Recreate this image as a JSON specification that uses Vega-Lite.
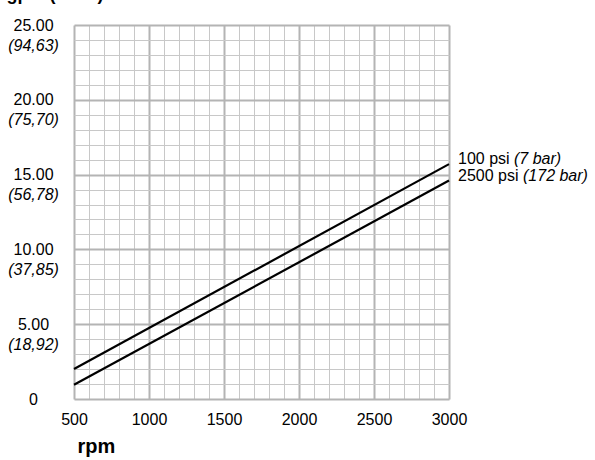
{
  "$schema": "https://vega.github.io/schema/vega-lite/v6.json",
  "width": 375,
  "height": 374,
  "autosize": {"type": "none"},
  "padding": {"left": 74, "top": 25, "right": 146, "bottom": 61},
  "background": "white",
  "config": {
    "font": "Liberation Sans",
    "view": {"stroke": null},
    "axis": {"labelColor": "black", "titleColor": "black", "labelFont": "Liberation Sans", "titleFont": "Liberation Sans"}
  },
  "datasets": {
    "lines": [
      {"series": "100 psi", "rpm": 500, "gpm": 2.0},
      {"series": "100 psi", "rpm": 3000, "gpm": 15.7},
      {"series": "2500 psi", "rpm": 500, "gpm": 0.95},
      {"series": "2500 psi", "rpm": 3000, "gpm": 14.6}
    ],
    "labels": [
      {"label": "100 psi", "bar": "(7 bar)", "rpm": 3000, "gpm": 15.7},
      {"label": "2500 psi", "bar": "(172 bar)", "rpm": 3000, "gpm": 14.6}
    ]
  },
  "layer": [
    {
      "data": {"name": "lines"},
      "mark": {"type": "line", "color": "black", "strokeWidth": 2.2},
      "encoding": {
        "x": {
          "field": "rpm", "type": "quantitative",
          "scale": {"domain": [500, 3000], "nice": false, "zero": false},
          "axis": {
            "values": [500,600,700,800,900,1000,1100,1200,1300,1400,1500,1600,1700,1800,1900,2000,2100,2200,2300,2400,2500,2600,2700,2800,2900,3000],
            "format": "d",
            "grid": true,
            "gridColor": {"condition": {"test": "datum.value % 500 === 0", "value": "#b4b4b4"}, "value": "#c8c8c8"},
            "gridWidth": {"condition": {"test": "datum.value % 500 === 0", "value": 2}, "value": 1},
            "gridOpacity": 1,
            "ticks": false,
            "tickSize": 0,
            "domain": false,
            "labelExpr": "datum.value % 500 === 0 ? datum.label : ''",
            "labelOverlap": false,
            "labelFlush": false,
            "labelFontSize": 16,
            "labelPadding": 12,
            "title": "rpm",
            "titleFontSize": 20,
            "titleFontWeight": "bold",
            "titleAlign": "left",
            "titleAnchor": "start",
            "titleBaseline": "alphabetic",
            "titleX": 3,
            "titleY": 53
          }
        },
        "y": {
          "field": "gpm", "type": "quantitative",
          "scale": {"domain": [0, 25], "nice": false},
          "axis": {
            "orient": "left",
            "values": [0,1,2,3,4,5,6,7,8,9,10,11,12,13,14,15,16,17,18,19,20,21,22,23,24,25],
            "grid": true,
            "gridColor": {"condition": {"test": "datum.value % 5 === 0", "value": "#b4b4b4"}, "value": "#c8c8c8"},
            "gridWidth": {"condition": {"test": "datum.value % 5 === 0", "value": 2}, "value": 1},
            "gridOpacity": 1,
            "ticks": false,
            "tickSize": 0,
            "domain": false,
            "labelExpr": "datum.value % 5 !== 0 ? '' : (datum.value === 0 ? '0' : format(datum.value, '.2f'))",
            "labelOverlap": false,
            "labelFlush": false,
            "labelAlign": "center",
            "labelBaseline": "middle",
            "labelFontSize": 16,
            "labelPadding": 41,
            "title": "gpm (l/min)",
            "titleAngle": 0,
            "titleAlign": "left",
            "titleBaseline": "alphabetic",
            "titleFontSize": 18,
            "titleFontWeight": "bold",
            "titleX": -68,
            "titleY": -26
          }
        },
        "detail": {"field": "series"}
      }
    },
    {
      "data": {"name": "labels"},
      "mark": {"type": "text", "align": "left", "baseline": "middle", "dx": 9, "dy": -5, "fontSize": 16, "color": "black"},
      "encoding": {
        "x": {"field": "rpm", "type": "quantitative", "axis": null},
        "y": {
          "field": "gpm", "type": "quantitative",
          "axis": {
            "orient": "left",
            "values": [5, 10, 15, 20, 25],
            "grid": false,
            "ticks": false,
            "tickSize": 0,
            "domain": false,
            "labelExpr": "'(' + replace(format(floor(datum.value * 378.541) / 100, '.2f'), '.', ',') + ')'",
            "labelOverlap": false,
            "labelFlush": false,
            "labelAlign": "center",
            "labelBaseline": "middle",
            "labelFontSize": 16,
            "labelFontStyle": "italic",
            "labelPadding": 41,
            "labelOffset": 20,
            "title": null
          }
        },
        "text": {"field": "label"}
      }
    },
    {
      "data": {"name": "labels"},
      "transform": [{"filter": "datum.label === '100 psi'"}],
      "mark": {"type": "text", "align": "left", "baseline": "middle", "dx": 65, "dy": -5, "fontSize": 16, "fontStyle": "italic", "color": "black"},
      "encoding": {
        "x": {"field": "rpm", "type": "quantitative", "axis": null},
        "y": {"field": "gpm", "type": "quantitative", "axis": null},
        "text": {"field": "bar"}
      }
    },
    {
      "data": {"name": "labels"},
      "transform": [{"filter": "datum.label === '2500 psi'"}],
      "mark": {"type": "text", "align": "left", "baseline": "middle", "dx": 74, "dy": -5, "fontSize": 16, "fontStyle": "italic", "color": "black"},
      "encoding": {
        "x": {"field": "rpm", "type": "quantitative", "axis": null},
        "y": {"field": "gpm", "type": "quantitative", "axis": null},
        "text": {"field": "bar"}
      }
    }
  ],
  "resolve": {"axis": {"x": "independent", "y": "independent"}}
}
